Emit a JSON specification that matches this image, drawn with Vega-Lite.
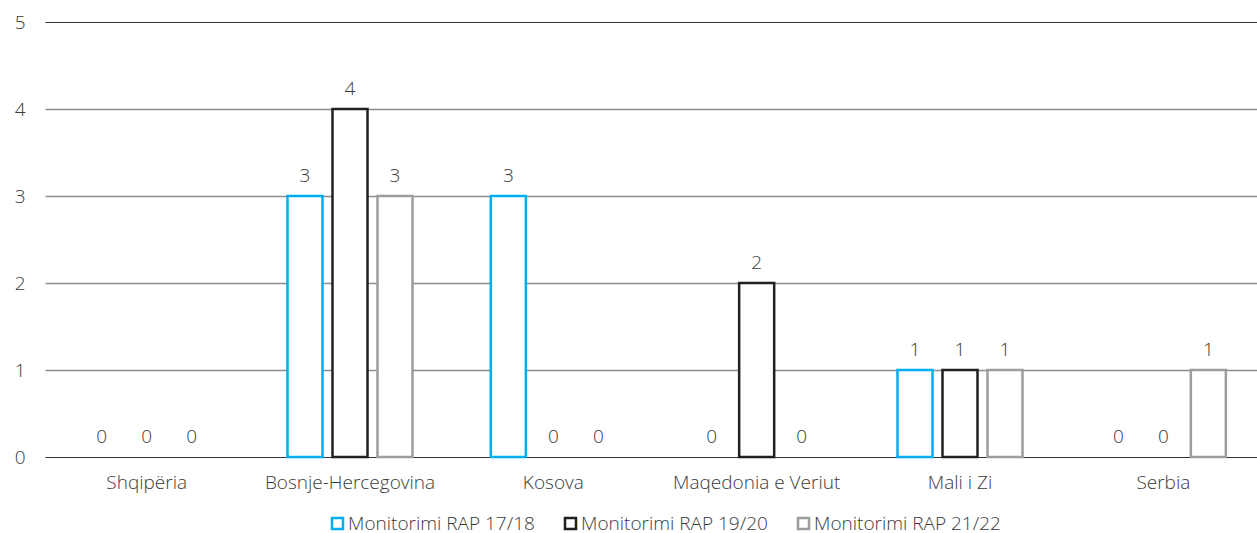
{
  "$schema": "https://vega.github.io/schema/vega-lite/v6.json",
  "autosize": "none",
  "width": 1212,
  "height": 435,
  "padding": {"left": 45, "top": 22, "right": 0, "bottom": 76},
  "background": "white",
  "config": {"view": {"stroke": null}, "font": "Open Sans"},
  "data": {"values": [
    {"country": "Shqipëria", "series": "Monitorimi RAP 17/18", "value": 0},
    {"country": "Shqipëria", "series": "Monitorimi RAP 19/20", "value": 0},
    {"country": "Shqipëria", "series": "Monitorimi RAP 21/22", "value": 0},
    {"country": "Bosnje-Hercegovina", "series": "Monitorimi RAP 17/18", "value": 3},
    {"country": "Bosnje-Hercegovina", "series": "Monitorimi RAP 19/20", "value": 4},
    {"country": "Bosnje-Hercegovina", "series": "Monitorimi RAP 21/22", "value": 3},
    {"country": "Kosova", "series": "Monitorimi RAP 17/18", "value": 3},
    {"country": "Kosova", "series": "Monitorimi RAP 19/20", "value": 0},
    {"country": "Kosova", "series": "Monitorimi RAP 21/22", "value": 0},
    {"country": "Maqedonia e Veriut", "series": "Monitorimi RAP 17/18", "value": 0},
    {"country": "Maqedonia e Veriut", "series": "Monitorimi RAP 19/20", "value": 2},
    {"country": "Maqedonia e Veriut", "series": "Monitorimi RAP 21/22", "value": 0},
    {"country": "Mali i Zi", "series": "Monitorimi RAP 17/18", "value": 1},
    {"country": "Mali i Zi", "series": "Monitorimi RAP 19/20", "value": 1},
    {"country": "Mali i Zi", "series": "Monitorimi RAP 21/22", "value": 1},
    {"country": "Serbia", "series": "Monitorimi RAP 17/18", "value": 0},
    {"country": "Serbia", "series": "Monitorimi RAP 19/20", "value": 0},
    {"country": "Serbia", "series": "Monitorimi RAP 21/22", "value": 1}
  ]},
  "encoding": {
    "x": {
      "field": "country", "type": "nominal", "title": null,
      "sort": ["Shqipëria", "Bosnje-Hercegovina", "Kosova", "Maqedonia e Veriut", "Mali i Zi", "Serbia"],
      "scale": {"domain": ["Shqipëria", "Bosnje-Hercegovina", "Kosova", "Maqedonia e Veriut", "Mali i Zi", "Serbia"], "range": [0, 1220], "paddingInner": 0, "paddingOuter": 0},
      "axis": {"labelAngle": 0, "domain": false, "ticks": false, "labelPadding": 16, "labelFontSize": 19, "labelColor": "#3a3a3a", "labelFontWeight": 300, "labelLimit": 400}
    },
    "xOffset": {
      "field": "series", "type": "nominal",
      "scale": {"domain": ["Monitorimi RAP 17/18", "Monitorimi RAP 19/20", "Monitorimi RAP 21/22"], "paddingInner": 0.222, "paddingOuter": 0.87}
    },
    "y": {
      "field": "value", "type": "quantitative", "title": null,
      "scale": {"domain": [0, 5], "nice": false},
      "axis": {"values": [0, 1, 2, 3, 4, 5], "domain": false, "ticks": false, "labelPadding": 20, "labelFontSize": 19, "labelColor": "#3a3a3a", "labelFontWeight": 300,
        "gridColor": {"condition": {"test": "datum.value == 0 || datum.value == 5", "value": "#333333"}, "value": "#8c8c8c"},
        "gridWidth": {"condition": {"test": "datum.value == 0 || datum.value == 5", "value": 1}, "value": 1.3}}
    }
  },
  "layer": [
    {
      "transform": [{"filter": "datum.value > 0"}],
      "mark": {"type": "bar", "fill": "white", "strokeWidth": 2.5},
      "encoding": {
        "stroke": {
          "field": "series", "type": "nominal",
          "scale": {"domain": ["Monitorimi RAP 17/18", "Monitorimi RAP 19/20", "Monitorimi RAP 21/22"], "range": ["#00AEEF", "#231F20", "#9D9D9C"]},
          "legend": {"title": null, "orient": "none", "legendX": 283, "legendY": 492, "direction": "horizontal", "symbolType": "square", "symbolSize": 121, "symbolStrokeWidth": 2.5, "symbolFillColor": "white", "labelFontSize": 19, "labelColor": "#3a3a3a", "labelFontWeight": 300, "labelLimit": 400, "columnPadding": 25, "labelOffset": 1}
        }
      }
    },
    {
      "mark": {"type": "text", "dy": -14, "baseline": "alphabetic", "fontSize": 19, "fontWeight": 300, "color": "#3a3a3a"},
      "encoding": {"text": {"field": "value", "type": "quantitative"}}
    }
  ]
}
